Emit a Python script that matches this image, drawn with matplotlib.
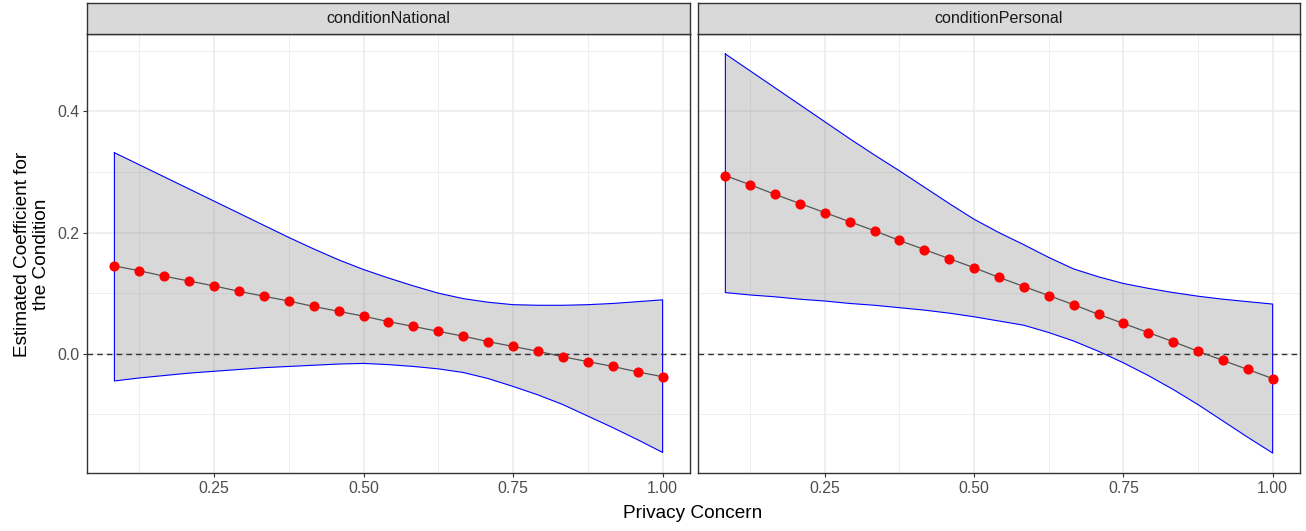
import numpy as np
import matplotlib
matplotlib.use("Agg")
import matplotlib.pyplot as plt
from matplotlib.ticker import MultipleLocator

plt.rcParams['font.family'] = ['Liberation Sans', 'DejaVu Sans']

# privacy concern values (k/24, k = 2..24)
x = [2/24, 3/24, 4/24, 5/24, 6/24, 7/24, 8/24, 9/24, 10/24, 11/24, 12/24, 13/24,
     14/24, 15/24, 16/24, 17/24, 18/24, 19/24, 20/24, 21/24, 22/24, 23/24, 24/24]

panels = ["conditionNational", "conditionPersonal"]

nat_est = [0.145, 0.137, 0.128, 0.120, 0.112, 0.103, 0.095, 0.087, 0.078, 0.070, 0.062, 0.053,
           0.045, 0.037, 0.029, 0.020, 0.012, 0.004, -0.005, -0.013, -0.021, -0.030, -0.038]
nat_hi = [0.332, 0.312, 0.292, 0.272, 0.252, 0.232, 0.212, 0.192, 0.173, 0.155, 0.139, 0.125,
          0.112, 0.100, 0.091, 0.085, 0.081, 0.080, 0.080, 0.081, 0.083, 0.086, 0.089]
nat_lo = [-0.045, -0.040, -0.036, -0.032, -0.029, -0.026, -0.023, -0.021, -0.019, -0.017, -0.016, -0.018,
          -0.021, -0.025, -0.031, -0.041, -0.054, -0.068, -0.084, -0.103, -0.122, -0.142, -0.163]

per_est = [0.294, 0.279, 0.263, 0.248, 0.233, 0.218, 0.203, 0.187, 0.172, 0.157, 0.142, 0.126,
           0.111, 0.096, 0.081, 0.065, 0.050, 0.035, 0.020, 0.004, -0.011, -0.026, -0.041]
per_hi = [0.495, 0.467, 0.439, 0.411, 0.383, 0.355, 0.328, 0.302, 0.275, 0.248, 0.222, 0.200,
          0.180, 0.159, 0.140, 0.127, 0.116, 0.108, 0.101, 0.095, 0.090, 0.086, 0.082]
per_lo = [0.101, 0.097, 0.094, 0.090, 0.087, 0.083, 0.080, 0.076, 0.072, 0.067, 0.061, 0.054,
          0.047, 0.035, 0.021, 0.004, -0.015, -0.036, -0.059, -0.084, -0.111, -0.138, -0.164]

series = [(nat_est, nat_lo, nat_hi), (per_est, per_lo, per_hi)]

W, H = 1306, 531
fig = plt.figure(figsize=(W / 100, H / 100), dpi=100)

def box(l, t, r, b):
    return [l / W, 1 - b / H, (r - l) / W, (b - t) / H]

panel_px = [(87, 690), (698, 1300)]
top, bottom = 34, 473

xr = (x[0], x[-1])
xpad = (xr[1] - xr[0]) * 0.05
ymin = min(nat_lo + per_lo)
ymax = max(nat_hi + per_hi)
ypad = (ymax - ymin) * 0.05

for i, (name, (est, lo, hi)) in enumerate(zip(panels, series)):
    l, r = panel_px[i]
    ax = fig.add_axes(box(l, top, r, bottom))
    ax.set_xlim(xr[0] - xpad, xr[1] + xpad)
    ax.set_ylim(ymin - ypad, ymax + ypad)

    ax.xaxis.set_minor_locator(MultipleLocator(0.125))
    ax.yaxis.set_minor_locator(MultipleLocator(0.1))
    ax.set_xticks([0.25, 0.5, 0.75, 1.0])
    ax.set_xticklabels(["0.25", "0.50", "0.75", "1.00"])
    ax.set_yticks([0.0, 0.2, 0.4])
    ax.set_yticklabels(["0.0", "0.2", "0.4"])
    ax.grid(which='major', color='#EBEBEB', lw=1.1)
    ax.grid(which='minor', color='#EBEBEB', lw=0.55)
    ax.set_axisbelow(True)
    ax.tick_params(which='minor', length=0)
    ax.tick_params(which='major', length=3, width=0.8, color='#333333',
                   labelsize=11.4, labelcolor='#4D4D4D', pad=2.5)
    if i == 1:
        ax.tick_params(axis='y', left=False, labelleft=False)
    for s in ax.spines.values():
        s.set_color('#333333')
        s.set_linewidth(1.0)

    ax.fill_between(x, lo, hi, facecolor='#808080', alpha=0.3, lw=0)
    ox = np.concatenate([x, x[::-1], x[:1]])
    oy = np.concatenate([hi, lo[::-1], hi[:1]])
    ax.plot(ox, oy, color='blue', lw=0.8)
    ax.axhline(0, color='#333333', lw=1.0, ls=(0, (4, 3)))
    ax.plot(x, est, color='#555555', lw=0.9)
    ax.plot(x, est, 'o', color='red', ms=6.3, mec='red')

    sax = fig.add_axes(box(l, 3, r, top))
    sax.set_facecolor('#D9D9D9')
    sax.set_xticks([])
    sax.set_yticks([])
    for s in sax.spines.values():
        s.set_color('#333333')
        s.set_linewidth(1.0)
    sax.text(0.5, 0.5, name, ha='center', va='center', fontsize=11.6,
             color='#1A1A1A', transform=sax.transAxes)

fig.text(32 / W, 1 - 254 / H, "Estimated Coefficient for\nthe Condition", rotation=90,
         ha='center', va='center', multialignment='center', fontsize=13.7, linespacing=1.1)
fig.text(693 / W, 1 - 514 / H, "Privacy Concern", ha='center', va='center', fontsize=13.7)

fig.savefig("out.png", dpi=100)
